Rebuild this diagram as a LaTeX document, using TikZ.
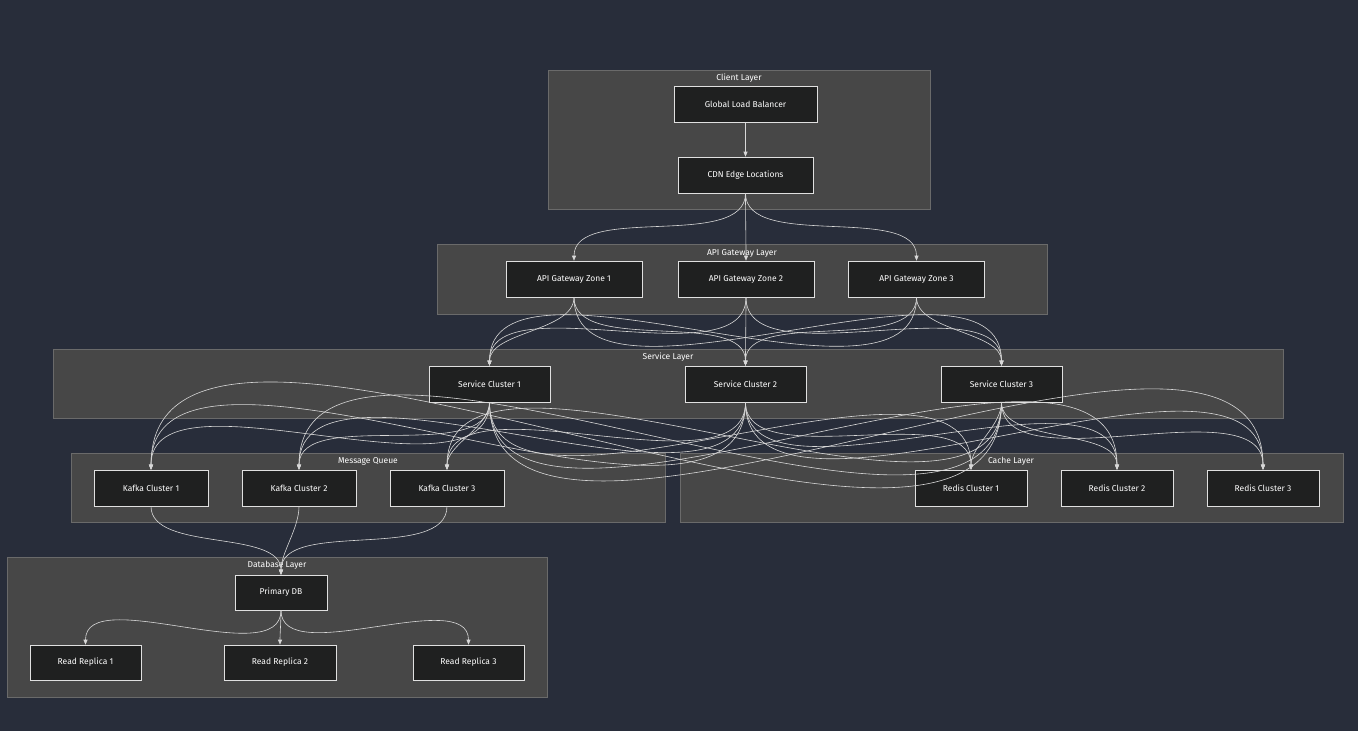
\documentclass[tikz,border=0pt]{standalone}
\usepackage{fontspec}
\setmainfont{Fira Sans}
\usetikzlibrary{arrows.meta}
\definecolor{bg}{HTML}{282D3A}
\definecolor{clus}{HTML}{474747}
\definecolor{clusb}{HTML}{6A6A6A}
\definecolor{nd}{HTML}{1F2020}
\definecolor{ln}{HTML}{D8D8D8}
\begin{document}
\begin{tikzpicture}[x=1pt,y=-1pt,
  box/.style={draw=ln!80,fill=nd,text=white,font=\fontsize{8.5}{10}\selectfont,minimum height=36pt,inner sep=0pt,line width=0.6pt},
  clu/.style={draw=clusb,fill=clus,line width=0.6pt},
  clab/.style={text=white,font=\fontsize{8.5}{10}\selectfont},
  e/.style={draw=ln,line width=0.6pt,-{Triangle[length=5pt,width=4pt]}},
  v/.style={e,out=-90,in=90,looseness=0.8}]
\fill[bg] (0,0) rectangle (1358,731);
\useasboundingbox (0,0) rectangle (1358,731);
% clusters
\draw[clu] (548,70) rectangle (930,209); \node[clab] (lc) at (739,78) {Client Layer};
\draw[clu] (437,244) rectangle (1047,314); \node[clab] (la) at (742,253) {API Gateway Layer};
\draw[clu] (53,349) rectangle (1283,418); \node[clab] (ls) at (668,357) {Service Layer};
\draw[clu] (71,453) rectangle (665,522); \node[clab] (lm) at (368,461) {Message Queue};
\draw[clu] (680,453) rectangle (1343,522); \node[clab] (lk) at (1011,461) {Cache Layer};
\draw[clu] (7,557) rectangle (547,697); \node[clab] (ld) at (277,565) {Database Layer};
% nodes
\node[box,minimum width=143pt] (lb) at (745.5,104.5) {Global Load Balancer};
\node[box,minimum width=135pt] (cdn) at (745.5,175) {CDN Edge Locations};
\node[box,minimum width=136pt] (a1) at (574,279) {API Gateway Zone 1};
\node[box,minimum width=136pt] (a2) at (746,279) {API Gateway Zone 2};
\node[box,minimum width=136pt] (a3) at (916.5,279) {API Gateway Zone 3};
\node[box,minimum width=121pt] (s1) at (489.5,384) {Service Cluster 1};
\node[box,minimum width=121pt] (s2) at (745.5,384) {Service Cluster 2};
\node[box,minimum width=121pt] (s3) at (1001.5,384) {Service Cluster 3};
\node[box,minimum width=114pt] (k1) at (151,488) {Kafka Cluster 1};
\node[box,minimum width=114pt] (k2) at (299,488) {Kafka Cluster 2};
\node[box,minimum width=114pt] (k3) at (447,488) {Kafka Cluster 3};
\node[box,minimum width=112pt] (r1) at (971,488) {Redis Cluster 1};
\node[box,minimum width=112pt] (r2) at (1117,488) {Redis Cluster 2};
\node[box,minimum width=112pt] (r3) at (1263,488) {Redis Cluster 3};
\node[box,minimum width=92pt,minimum height=35pt] (db) at (281,592.5) {Primary DB};
\node[box,minimum width=111pt,minimum height=35pt] (p1) at (85.5,662.5) {Read Replica 1};
\node[box,minimum width=112pt,minimum height=35pt] (p2) at (280,662.5) {Read Replica 2};
\node[box,minimum width=111pt,minimum height=35pt] (p3) at (468.5,662.5) {Read Replica 3};
% edges
\draw[e] (lb) -- (cdn);
\foreach \t in {a1,a2,a3} \draw[v] (cdn) to (\t);
\foreach \s in {a1,a2,a3} \foreach \t in {s1,s2,s3} \draw[v] (\s) to (\t);
\foreach \s in {s1,s2,s3} \foreach \t in {k1,k2,k3,r1,r2,r3} \draw[v] (\s) to (\t);
\foreach \s in {k1,k2,k3} \draw[v] (\s) to (db);
\foreach \t in {p1,p2,p3} \draw[v] (db) to (\t);
\end{tikzpicture}
\end{document}
